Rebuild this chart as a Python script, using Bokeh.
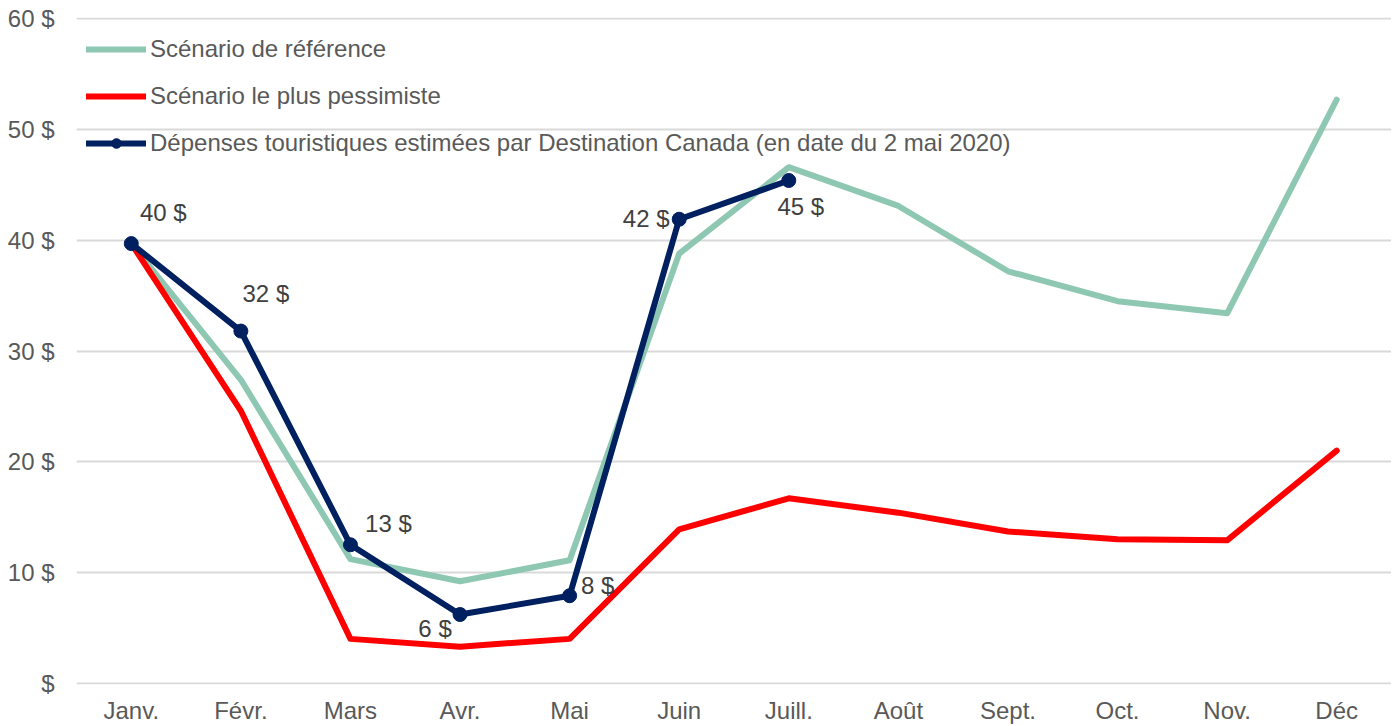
from bokeh.plotting import figure
from bokeh.models import ColumnDataSource, Legend, LegendItem, FixedTicker
from bokeh.core.properties import value
from bokeh.embed import file_html
from bokeh.resources import INLINE

months = ["Janv.", "Févr.", "Mars", "Avr.", "Mai", "Juin", "Juill.", "Août", "Sept.", "Oct.", "Nov.", "Déc"]
reference = [39.7, 27.4, 11.2, 9.2, 11.1, 38.8, 46.6, 43.1, 37.2, 34.5, 33.4, 52.7]
pessimist = [39.7, 24.6, 4.0, 3.3, 4.0, 13.9, 16.7, 15.4, 13.7, 13.0, 12.9, 21.0]
estimated_months = ["Janv.", "Févr.", "Mars", "Avr.", "Mai", "Juin", "Juill."]
estimated = [39.7, 31.8, 12.5, 6.2, 7.9, 41.9, 45.4]
estimated_labels = ["40 $", "32 $", "13 $", "6 $", "8 $", "42 $", "45 $"]
y_ticks = [0, 10, 20, 30, 40, 50, 60]
y_tick_labels = ["$", "10 $", "20 $", "30 $", "40 $", "50 $", "60 $"]

# label placement (screen pixels, styling only)
label_dx = [32, 25, 38, -25, 28, -33, 12]
label_dy = [-31, -38, -21, 14, -10, -1, 26]

FONT = "Liberation Sans"
FS = "24px"

p = figure(x_range=months, y_range=(-0.12, 60.12), width=1391, height=726,
           output_backend="svg", toolbar_location=None,
           min_border_left=76, min_border_right=0, min_border_top=17, min_border_bottom=40)
p.outline_line_color = None

green = "#8EC8B3"
red = "#FF0000"
navy = "#002060"

r1 = p.line(months, reference, line_color=green, line_width=6, line_join="round", line_cap="round")
r2 = p.line(months, pessimist, line_color=red, line_width=6, line_join="round", line_cap="round")
r3 = p.line(estimated_months, estimated, line_color=navy, line_width=6, line_join="round", line_cap="round")
r4 = p.scatter(estimated_months, estimated, size=14, fill_color=navy, line_color=navy)

src = ColumnDataSource(dict(x=estimated_months, y=estimated, t=estimated_labels, dx=label_dx, dy=label_dy))
p.text(x="x", y="y", text="t", x_offset="dx", y_offset="dy", source=src,
       text_font=value(FONT), text_font_size=FS, text_color="#404040",
       text_align="center", text_baseline="middle")

# axes
p.yaxis.ticker = FixedTicker(ticks=y_ticks)
p.yaxis.major_label_overrides = {t: l for t, l in zip(y_ticks, y_tick_labels)}
for ax in (p.xaxis, p.yaxis):
    ax.axis_line_color = None
    ax.major_tick_line_color = None
    ax.minor_tick_line_color = None
    ax.major_label_text_font = FONT
    ax.major_label_text_font_size = FS
    ax.major_label_text_color = "#595959"
p.yaxis.major_label_standoff = 16
p.xaxis.major_label_standoff = 6

p.xgrid.grid_line_color = None
p.ygrid.grid_line_color = "#D9D9D9"
p.ygrid.grid_line_width = 2

legend = Legend(items=[
    LegendItem(label="Scénario de référence", renderers=[r1]),
    LegendItem(label="Scénario le plus pessimiste", renderers=[r2]),
    LegendItem(label="Dépenses touristiques estimées par Destination Canada (en date du 2 mai 2020)", renderers=[r3, r4]),
], location=(10, 527))
legend.background_fill_alpha = 0
legend.border_line_color = None
legend.padding = 12
legend.margin = 0
legend.glyph_width = 60
legend.glyph_height = 24
legend.label_height = 24
legend.spacing = 19
legend.label_standoff = 4
legend.label_text_font = FONT
legend.label_text_font_size = FS
legend.label_text_color = "#595959"
p.add_layout(legend, "center")

open("out.html", "w").write(file_html(p, INLINE))
